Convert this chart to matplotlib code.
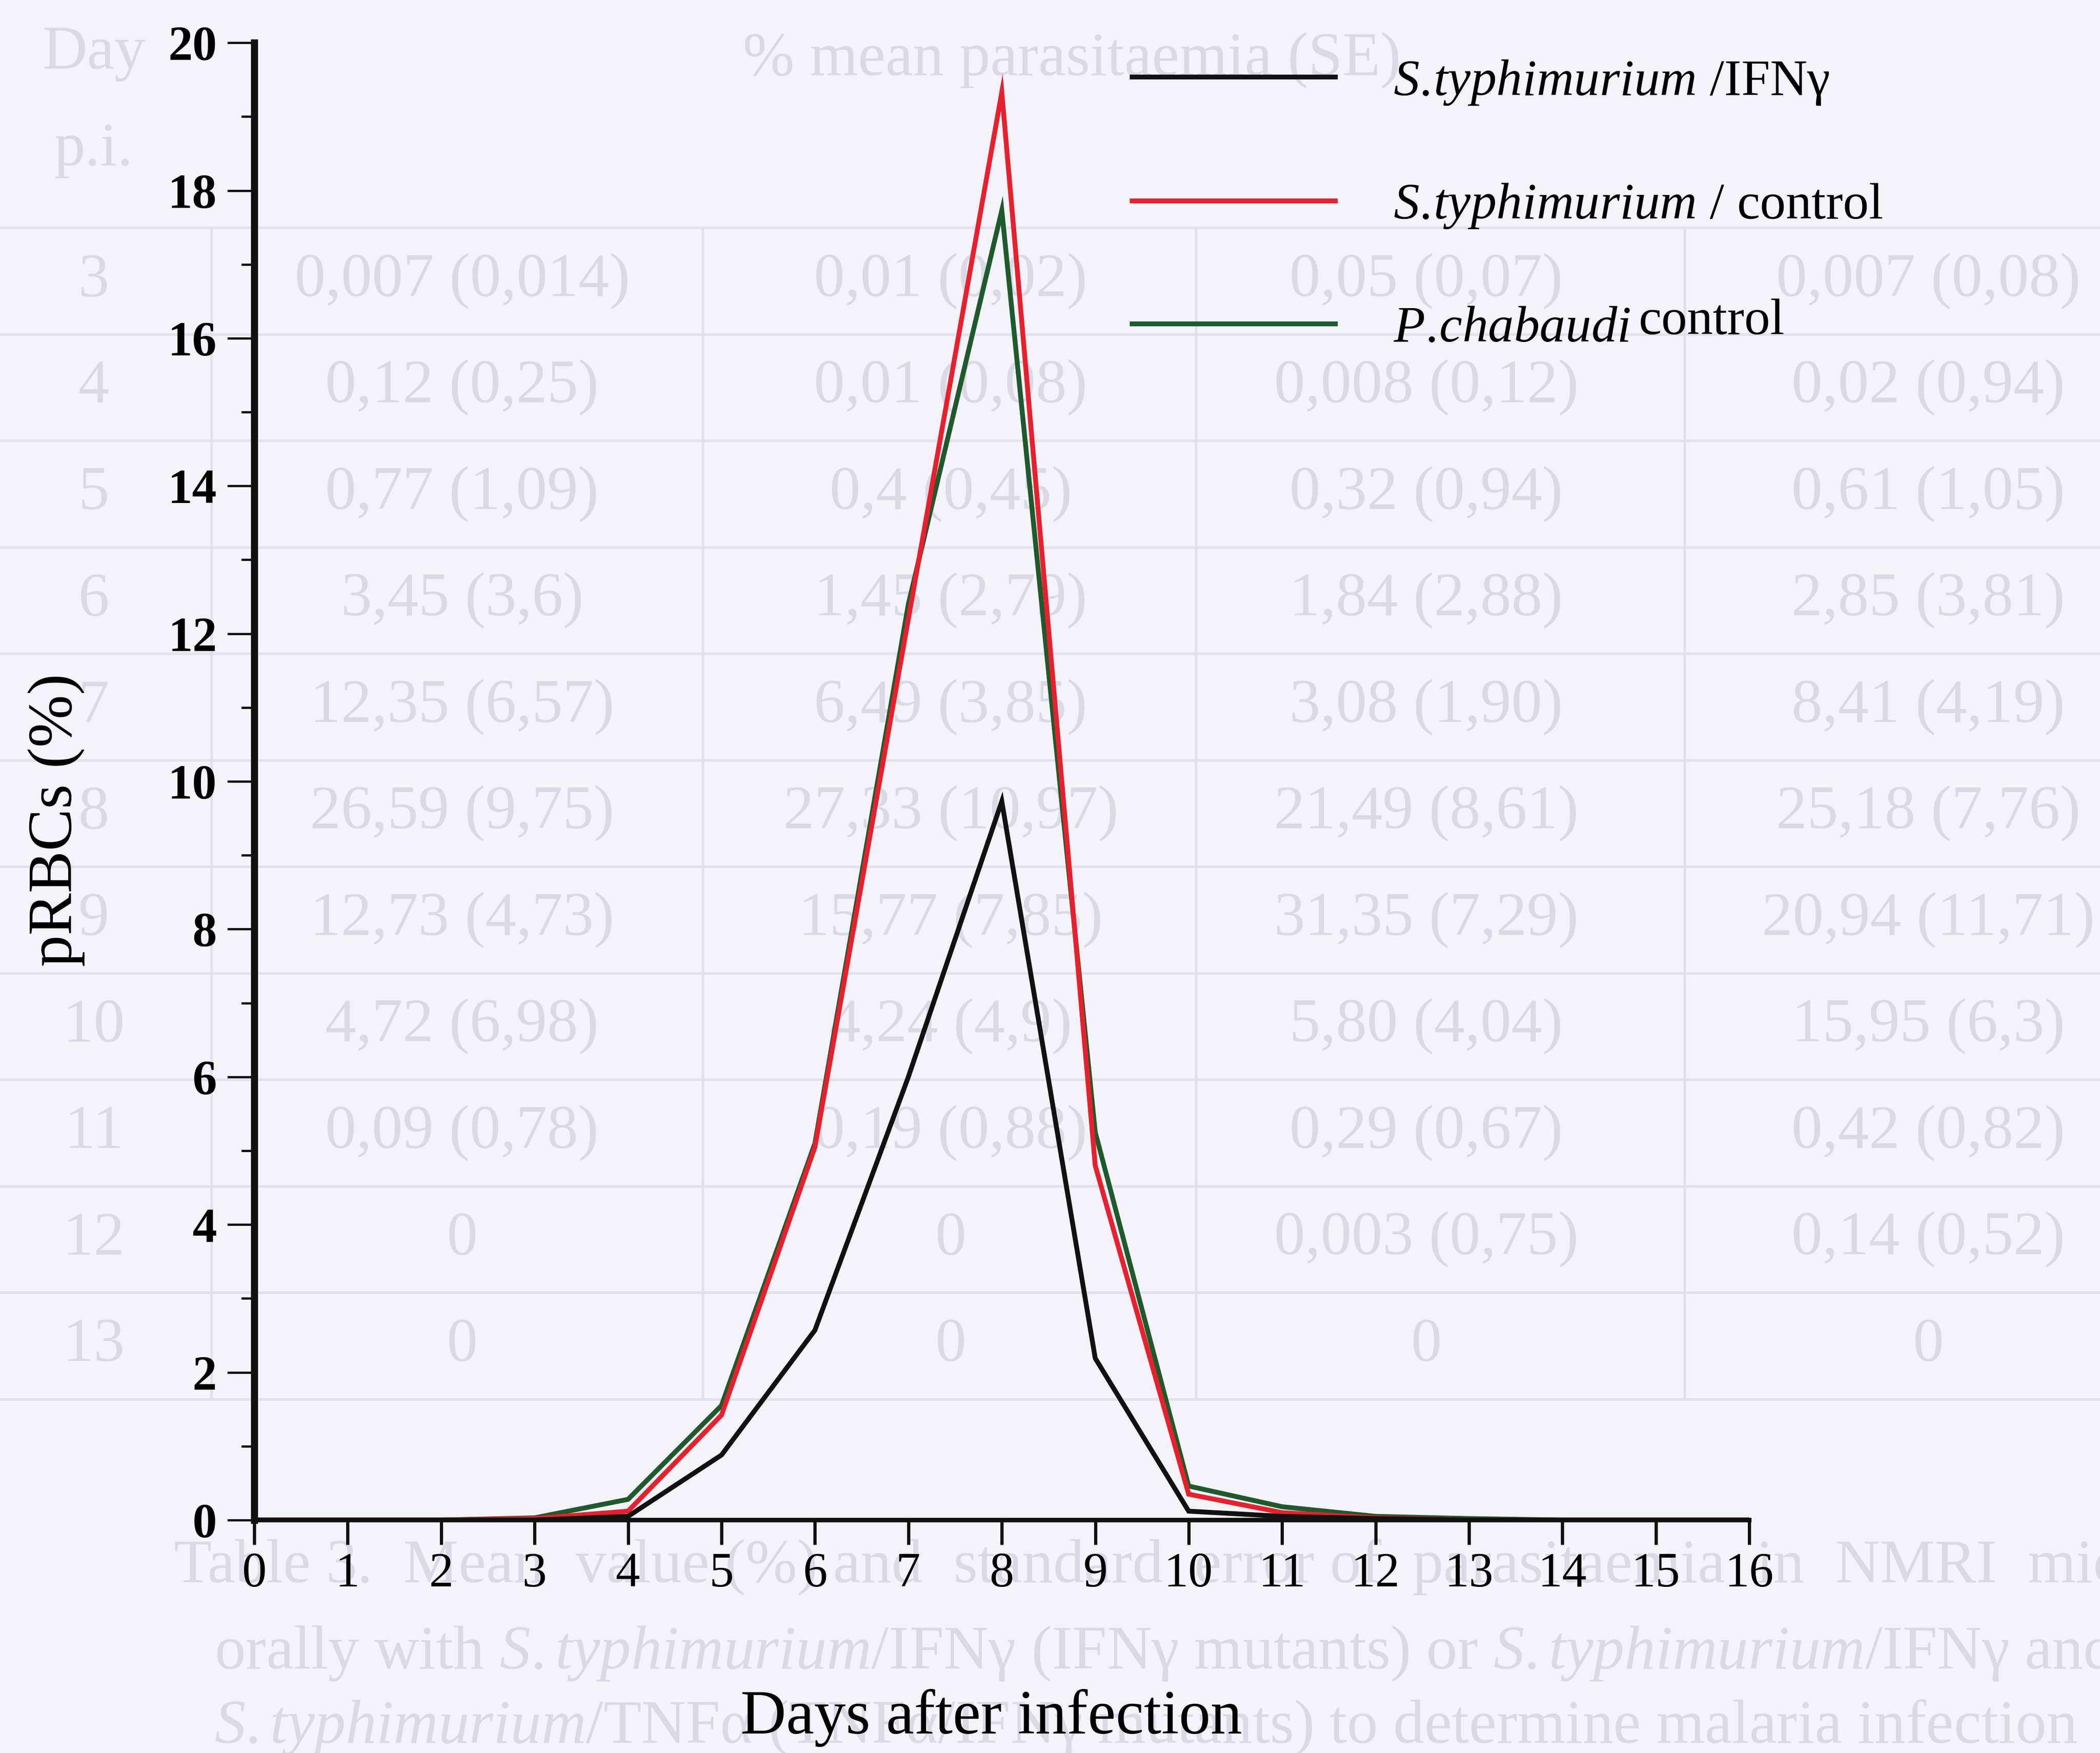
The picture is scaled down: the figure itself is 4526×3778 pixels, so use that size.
import matplotlib
matplotlib.use("Agg")
import matplotlib.pyplot as plt
from matplotlib.ticker import MultipleLocator

plt.rcParams['font.family'] = ['Liberation Serif', 'DejaVu Serif']
plt.rcParams['mathtext.fontset'] = 'custom'
plt.rcParams['mathtext.rm'] = 'Liberation Serif'
plt.rcParams['mathtext.it'] = 'Liberation Serif:italic'

# parasitaemia curves, % parasitized RBCs per day after infection
days = list(range(17))
ifng = [0, 0, 0, 0, 0.05, 0.88, 2.57, 6.0, 9.73, 2.19, 0.12, 0.05, 0.02, 0, 0, 0, 0]
control = [0, 0, 0, 0.02, 0.12, 1.42, 5.05, 12.2, 19.33, 4.8, 0.35, 0.1, 0.03, 0, 0, 0, 0]
chabaudi = [0, 0, 0, 0.03, 0.28, 1.55, 5.1, 12.4, 17.73, 5.25, 0.46, 0.18, 0.05, 0.02, 0, 0, 0]

x_ticks = list(range(0, 17))
y_ticks = list(range(0, 21, 2))

# table from the facing page that shows through the paper
tbl_days = ['3', '4', '5', '6', '7', '8', '9', '10', '11', '12', '13']
tbl_col1 = ['0,007 (0,014)', '0,12 (0,25)', '0,77 (1,09)', '3,45 (3,6)', '12,35 (6,57)',
            '26,59 (9,75)', '12,73 (4,73)', '4,72 (6,98)', '0,09 (0,78)', '0', '0']
tbl_col2 = ['0,01 (0,02)', '0,01 (0,08)', '0,4 (0,45)', '1,45 (2,79)', '6,49 (3,85)',
            '27,33 (10,97)', '15,77 (7,85)', '4,24 (4,9)', '0,19 (0,88)', '0', '0']
tbl_col3 = ['0,05 (0,07)', '0,008 (0,12)', '0,32 (0,94)', '1,84 (2,88)', '3,08 (1,90)',
            '21,49 (8,61)', '31,35 (7,29)', '5,80 (4,04)', '0,29 (0,67)', '0,003 (0,75)', '0']
tbl_col4 = ['0,007 (0,08)', '0,02 (0,94)', '0,61 (1,05)', '2,85 (3,81)', '8,41 (4,19)',
            '25,18 (7,76)', '20,94 (11,71)', '15,95 (6,3)', '0,42 (0,82)', '0,14 (0,52)', '0']
caption = [
    'Table 3.  Mean  value (%) and  standard  error of  parasitaemia  in  NMRI  mice  inoculated',
    r'orally with $\mathit{S.typhimurium}$/IFNγ (IFNγ mutants) or $\mathit{S.typhimurium}$/IFNγ and',
    r'$\mathit{S.typhimurium}$/TNFα (TNFα/IFNγ mutants) to determine malaria infection',
]

W, H = 4526, 3778
fig = plt.figure(figsize=(W / 100, H / 100), dpi=100, facecolor='#f4f3f9')

# faint show-through layer, laid out in page pixels
bg = fig.add_axes([0, 0, 1, 1], zorder=0)
bg.set_xlim(0, W)
bg.set_ylim(H, 0)
bg.axis('off')
ghost = '#dadae4'
ghost_line = '#e1e1eb'
row0, pitch = 606, 229.5
col_x = [202, 996, 2049, 3074, 4156]
for i, cells in enumerate(zip(tbl_days, tbl_col1, tbl_col2, tbl_col3, tbl_col4)):
    yc = row0 + i * pitch
    for cx, s in zip(col_x, cells):
        bg.text(cx, yc, s, ha='center', va='center', fontsize=96, color=ghost)
for i in range(len(tbl_days) + 1):
    yl = row0 - pitch / 2 + i * pitch
    bg.plot([0, W], [yl, yl], color=ghost_line, lw=4)
for xl in [456, 1515, 2578, 3631]:
    bg.plot([xl, xl], [row0 - pitch / 2, row0 + (len(tbl_days) - 0.5) * pitch], color=ghost_line, lw=4)
bg.text(202, 115, 'Day', ha='center', va='center', fontsize=96, color=ghost)
bg.text(202, 323, 'p.i.', ha='center', va='center', fontsize=96, color=ghost)
bg.text(2310, 130, '% mean parasitaemia (SE)', ha='center', va='center', fontsize=96, color=ghost)
bg.text(375, 3377, caption[0], ha='left', va='center', fontsize=96, color=ghost)
bg.text(462, 3564, caption[1], ha='left', va='center', fontsize=96, color=ghost)
bg.text(462, 3723, caption[2], ha='left', va='center', fontsize=96, color=ghost)

# the graph itself
ax = fig.add_axes([0.1211, 0.1329, 0.7119, 0.8427], zorder=1)
ax.patch.set_alpha(0)

l_green, = ax.plot(days, chabaudi, color='#1e5a2c', lw=7.5, solid_joinstyle='miter')
l_red, = ax.plot(days, control, color='#e8202e', lw=7.5, solid_joinstyle='miter')
l_black, = ax.plot(days, ifng, color='#111111', lw=7.5, solid_joinstyle='miter')

ax.set_xlim(0, 16)
ax.set_ylim(0, 20)
ax.set_xticks(x_ticks)
ax.set_yticks(y_ticks)
ax.yaxis.set_minor_locator(MultipleLocator(1))
for side in ['top', 'right']:
    ax.spines[side].set_visible(False)
ax.spines['left'].set_linewidth(11)
ax.spines['bottom'].set_linewidth(7)
ax.spines['left'].set_color('#111111')
ax.spines['bottom'].set_color('#111111')

ax.tick_params(axis='x', which='major', direction='out', length=38, width=5,
               pad=12, labelsize=76, color='#111111')
ax.tick_params(axis='y', which='major', direction='out', length=42, width=3.5,
               pad=16, labelsize=76, color='#111111')
ax.tick_params(axis='y', which='minor', direction='out', length=20, width=3.5, color='#111111')
for t in ax.get_yticklabels():
    t.set_fontweight('bold')

ax.set_xlabel('Days after infection', fontsize=98, va='center')
ax.set_ylabel('pRBCs (%)', fontsize=98, va='center')
ax.xaxis.set_label_coords(0.493, -0.134)
ax.yaxis.set_label_coords(-0.1325, 0.474)

leg = ax.legend([l_black, l_red, l_green],
                [r'$\mathit{S.\!typhimurium}$ /IFNγ',
                 r'$\mathit{S.\!typhimurium}$ / control',
                 r'$\mathit{P.\!chabaudi}$'],
                loc='upper left', bbox_to_anchor=(0.539, 0.9666),
                bbox_transform=fig.transFigure, frameon=False, fontsize=80,
                handlelength=3.95, handletextpad=1.12, labelspacing=1.46,
                borderpad=0, borderaxespad=0)
for line in leg.get_lines():
    line.set_linewidth(7.5)

# "control" sits a little above the P.chabaudi baseline
fig.canvas.draw()
bb = leg.get_texts()[2].get_window_extent(fig.canvas.get_renderer())
fig.text((bb.x1 + 18) / W, (bb.y0 + 16) / H, 'control', fontsize=80,
         ha='left', va='bottom', zorder=3)

fig.savefig('out.png', dpi=100, facecolor=fig.get_facecolor())
